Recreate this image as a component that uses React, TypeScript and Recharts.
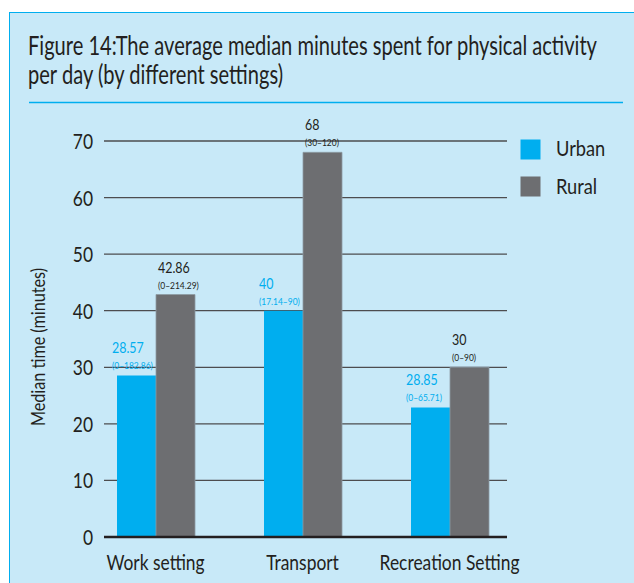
import { useLayoutEffect, useRef, useState } from "react";
import { BarChart, Bar, XAxis, YAxis, CartesianGrid, LabelList } from "recharts";

const categories = ["Work setting", "Transport", "Recreation Setting"];
const urbanValues = [28.57, 40, 22.9];
const ruralValues = [42.86, 68, 30];
const urbanLabels = ["28.57", "40", "28.85"];
const ruralLabels = ["42.86", "68", "30"];
const urbanRanges = ["(0–182.86)", "(17.14–90)", "(0–65.71)"];
const ruralRanges = ["(0–214.29)", "(30–120)", "(0–90)"];
const yTicks = [0, 10, 20, 30, 40, 50, 60, 70];
const seriesNames = ["Urban", "Rural"];
const seriesColors = ["#00aeef", "#6d6e71"];

const titleLines = [
  "Figure 14:The average median minutes spent for physical activity",
  "per day (by different settings)",
];
const yLabel = "Median time (minutes)";

const data = categories.map((name, i) => ({
  name,
  urban: urbanValues[i],
  rural: ruralValues[i],
}));

const FONT = "Lato, 'Open Sans', sans-serif";
const INK = "#231f20";
// the original uses a narrow Gill Sans; squeeze Lato horizontally to match
const COND = 0.83;
const TITLE_WIDTH = 569;

const CText = ({ x, y, size, color = INK, anchor = "start", rotate = 0, cond = COND, children }: any) => (
  <text
    transform={`translate(${x},${y}) rotate(${rotate}) scale(${cond},1)`}
    fontSize={size}
    fill={color}
    fontFamily={FONT}
    textAnchor={anchor}
  >
    {children}
  </text>
);

const makeLabel = (labels: string[], ranges: string[], color: string, dx: number) => (props: any) => {
  const { x, y, index } = props;
  return (
    <g>
      <CText x={x + dx} y={y - 22} size={15} color={color}>
        {labels[index]}
      </CText>
      <CText x={x + dx} y={y - 6} size={10.2} color={color}>
        {ranges[index]}
      </CText>
    </g>
  );
};

const XTick = (props: any) => {
  const { x, y, payload } = props;
  return (
    <CText x={x} y={y + 25} size={21} anchor="middle">
      {payload.value}
    </CText>
  );
};

const YTick = (props: any) => {
  const { x, y, payload } = props;
  return (
    <CText x={x} y={y + 8} size={21} anchor="end">
      {payload.value}
    </CText>
  );
};

const Title = () => {
  const ref = useRef<SVGTextElement>(null);
  const [k, setK] = useState(0.78);
  useLayoutEffect(() => {
    if (ref.current) {
      const w = ref.current.getBBox().width;
      if (w > 0) setK(TITLE_WIDTH / w);
    }
  }, []);
  return (
    <g fontFamily={FONT} fontSize={26} fill={INK}>
      <text ref={ref} transform={`translate(28,55) scale(${k},1)`}>
        {titleLines[0]}
      </text>
      <text transform={`translate(28,84) scale(${k},1)`}>{titleLines[1]}</text>
    </g>
  );
};

export default function App() {
  return (
    <div style={{ position: "absolute", left: 0, top: 0, width: 634, height: 583, background: "#fff", overflow: "hidden" }}>
      <div
        style={{
          position: "absolute",
          left: 9,
          top: 12,
          width: 625,
          height: 571,
          background: "#c8e9f8",
          borderTop: "1.5px solid #00aeef",
          borderLeft: "1.5px solid #00aeef",
          boxSizing: "border-box",
        }}
      />
      <div style={{ position: "absolute", left: 0, top: 0 }}>
        <BarChart
          width={634}
          height={583}
          data={data}
          margin={{ top: 141, right: 127, left: 44, bottom: 16 }}
          barCategoryGap={35}
          barGap={0}
        >
          <CartesianGrid vertical={false} stroke="#4d4d4f" strokeWidth={1.3} />
          <XAxis
            dataKey="name"
            height={30}
            padding={{ left: -22, right: -16 }}
            axisLine={{ stroke: INK, strokeWidth: 2.5 }}
            tickLine={false}
            tick={<XTick />}
            interval={0}
          />
          <YAxis
            width={60}
            domain={[0, 70]}
            ticks={yTicks}
            axisLine={false}
            tickLine={false}
            tickSize={0}
            tickMargin={11}
            tick={<YTick />}
            label={{
              content: (p: any) => {
                const vb = p.viewBox;
                return (
                  <CText x={vb.x + 1} y={vb.y + vb.height / 2 + 8} size={19.5} anchor="middle" rotate={-90}>
                    {yLabel}
                  </CText>
                );
              },
            }}
          />
          <Bar dataKey="urban" name={seriesNames[0]} fill={seriesColors[0]} isAnimationActive={false}>
            <LabelList dataKey="urban" content={makeLabel(urbanLabels, urbanRanges, seriesColors[0], -5)} />
          </Bar>
          <Bar dataKey="rural" name={seriesNames[1]} fill={seriesColors[1]} stroke="#8d9aa3" strokeWidth={0.8} isAnimationActive={false}>
            <LabelList dataKey="rural" content={makeLabel(ruralLabels, ruralRanges, INK, 2)} />
          </Bar>
        </BarChart>
      </div>
      <svg style={{ position: "absolute", left: 0, top: 0, pointerEvents: "none" }} width={634} height={583}>
        <Title />
        <line x1={29} x2={623} y1={102.5} y2={102.5} stroke="#00aeef" strokeWidth={1.5} />
        {seriesNames.map((n, i) => (
          <g key={n}>
            <rect x={520.5} y={139.5 + i * 37} width={20} height={20} fill={seriesColors[i]} />
            <CText x={556} y={156 + i * 38} size={22}>
              {n}
            </CText>
          </g>
        ))}
      </svg>
    </div>
  );
}
